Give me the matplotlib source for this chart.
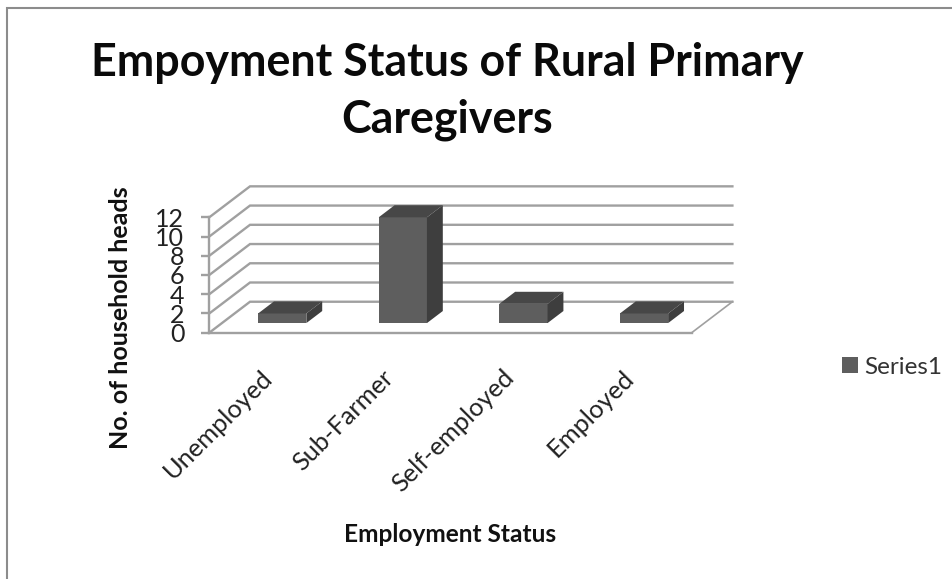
import matplotlib
matplotlib.use("Agg")
import matplotlib.pyplot as plt
from matplotlib.lines import Line2D
from matplotlib.patches import Patch
from matplotlib.transforms import ScaledTranslation

categories = ["Unemployed", "Sub-Farmer", "Self-employed", "Employed"]
values = [1, 11, 2, 1]
y_ticks = [0, 2, 4, 6, 8, 10, 12]
title_lines = ["Empoyment Status of Rural Primary", "Caregivers"]
x_title = "Employment Status"
y_title = "No. of household heads"
series_name = "Series1"

W, H = 953, 579
FONT = "Lato"
GRID = "#a0a0a0"
FRONT, TOP, SIDE = "#5e5e5e", "#474747", "#3e3e3e"

fig = plt.figure(figsize=(W / 100, H / 100), dpi=100, facecolor="white")
ax = fig.add_axes([209.3 / W, 1 - 332.7 / H, 482.4 / W, 115.4 / H])
ax.set_xlim(-0.5, 3.5)
ax.set_ylim(0, 12)
ax.patch.set_visible(False)

# oblique depth expressed in data units
DX, DY = 0.3375, 3.22
x0, x1 = -0.5, 3.5
LW = 1.7

# back wall grid, left wall diagonals
for t in y_ticks:
    ax.plot([x0, x0 + DX, x1 + DX], [t, t + DY, t + DY], color=GRID, lw=LW,
            clip_on=False, zorder=1, solid_joinstyle="miter")
# floor right edge
ax.plot([x1, x1 + DX], [0, DY], color=GRID, lw=1.2, clip_on=False, zorder=1)

# bars
BAR_W = 0.40
D0, D1 = 0.31, 0.70
for i, v in enumerate(values):
    xl = i - BAR_W / 2 + D0 * DX
    xr = i + BAR_W / 2 + D0 * DX
    yb = D0 * DY
    ddx, ddy = (D1 - D0) * DX, (D1 - D0) * DY
    ax.bar(xl + BAR_W / 2, v, width=BAR_W, bottom=yb, color=FRONT, zorder=3, clip_on=False,
           edgecolor="none")
    ax.fill([xl, xr, xr + ddx, xl + ddx], [yb + v, yb + v, yb + v + ddy, yb + v + ddy],
            color=TOP, lw=0, zorder=3, clip_on=False)
    ax.fill([xr, xr + ddx, xr + ddx, xr], [yb, yb + ddy, yb + v + ddy, yb + v],
            color=SIDE, lw=0, zorder=3, clip_on=False)

for s in ("top", "right"):
    ax.spines[s].set_visible(False)
for s in ("left", "bottom"):
    ax.spines[s].set_color(GRID)
    ax.spines[s].set_linewidth(LW)

ax.set_yticks(y_ticks)
ax.set_yticklabels([str(t) for t in y_ticks], fontsize=18, family=FONT, color="#222222")
ax.tick_params(axis="y", length=5.5, width=LW, color=GRID, pad=12.5)
ax.set_xticks(range(len(categories)))
ax.set_xticklabels(categories, rotation=45, ha="right", rotation_mode="anchor",
                   fontsize=18.3, family=FONT, color="#222222")
ax.tick_params(axis="x", length=0, pad=24)
shift = ScaledTranslation(-6.5 / 72, 0, fig.dpi_scale_trans)
for lab in ax.get_xticklabels():
    lab.set_transform(lab.get_transform() + shift)

fig.text(447 / W, 1 - 63 / H, title_lines[0], ha="center", va="center",
         fontsize=32.2, fontweight="bold", family=FONT, color="#0a0a0a")
fig.text(447 / W, 1 - 120 / H, title_lines[1], ha="center", va="center",
         fontsize=32.2, fontweight="bold", family=FONT, color="#0a0a0a")
fig.text(450 / W, 1 - 534 / H, x_title, ha="center", va="center",
         fontsize=17.6, fontweight="bold", family=FONT, color="#111111")
fig.text(121 / W, 1 - 318 / H, y_title, ha="center", va="center", rotation=90,
         fontsize=18, fontweight="bold", family=FONT, color="#111111")

leg = fig.legend(handles=[Patch(facecolor=FRONT, label=series_name)], loc="center left",
                 bbox_to_anchor=(842 / W, 1 - 367 / H), frameon=False,
                 borderpad=0, borderaxespad=0,
                 handlelength=0.64, handleheight=0.64, handletextpad=0.29,
                 prop={"family": FONT, "size": 17.5}, labelcolor="#333333")

# outer picture frame
fig.add_artist(Line2D([7 / W, 7 / W, 1], [0, 1 - 8 / H, 1 - 8 / H], transform=fig.transFigure,
                      color="#8c8c8c", lw=1.5, solid_joinstyle="miter"))

fig.savefig("out.png", dpi=100)
